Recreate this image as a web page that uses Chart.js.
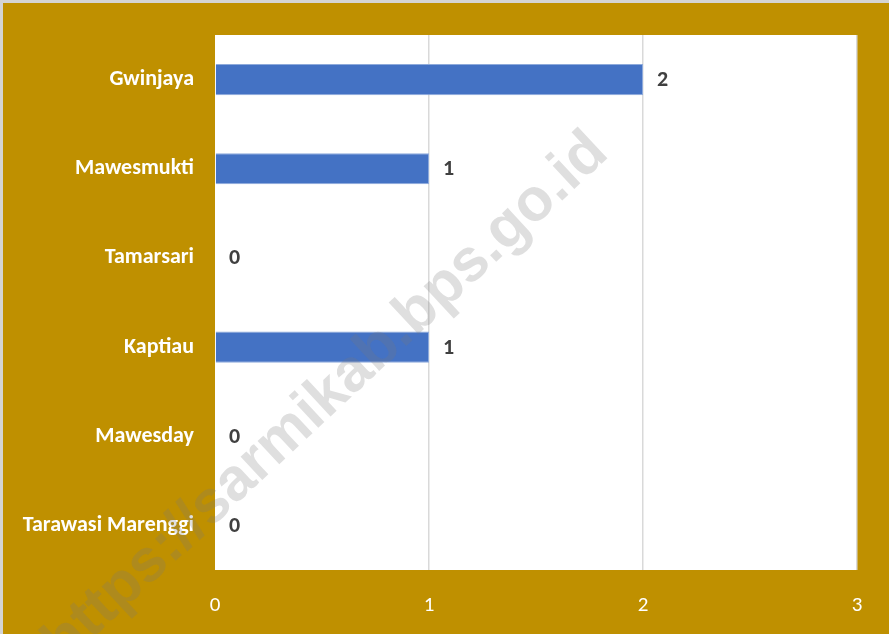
<!DOCTYPE html>
<html lang="en">
<head>
    <meta charset="UTF-8">
    <title>Bar Chart</title>
    <script src="https://cdn.jsdelivr.net/npm/chart.js"></script>
    <style>
        html, body {
            margin: 0;
            padding: 0;
            background-color: #bf9000;
        }

        #chartBox {
            width: 889px;
            height: 634px;
        }
    </style>
</head>
<body>
<div id="chartBox">
    <canvas id="barChart" width="889" height="634"></canvas>
</div>

<script>
    const villages = ['Gwinjaya', 'Mawesmukti', 'Tamarsari', 'Kaptiau', 'Mawesday', 'Tarawasi Marenggi'];
    const counts = [2, 1, 0, 1, 0, 0];
    const axisTicks = [0, 1, 2, 3];

    const labelFont = "Carlito, Lato, 'Noto Sans', sans-serif";

    // gold backdrop, white plot area, thin frame at top/left
    const backdrop = {
        id: 'backdrop',
        beforeDraw(chart) {
            const {ctx, chartArea: a} = chart;
            ctx.save();
            ctx.fillStyle = '#bf9000';
            ctx.fillRect(0, 0, chart.width, chart.height);
            ctx.strokeStyle = '#d4d4d4';
            ctx.lineWidth = 3;
            ctx.beginPath();
            ctx.moveTo(1.5, chart.height);
            ctx.lineTo(1.5, 1.5);
            ctx.lineTo(chart.width, 1.5);
            ctx.stroke();
            ctx.fillStyle = '#ffffff';
            ctx.fillRect(a.left, a.top, a.right - a.left, a.bottom - a.top);
            ctx.restore();
        }
    };

    // value labels at the end of each bar
    const valueLabels = {
        id: 'valueLabels',
        afterDatasetsDraw(chart) {
            const ctx = chart.ctx;
            const meta = chart.getDatasetMeta(0);
            ctx.save();
            ctx.font = 'bold 22px ' + labelFont;
            ctx.fillStyle = '#404040';
            ctx.textAlign = 'left';
            ctx.textBaseline = 'middle';
            meta.data.forEach((bar, i) => {
                ctx.fillText(String(counts[i]), bar.x + 14, bar.y + 1);
            });
            ctx.restore();
        }
    };

    // diagonal site watermark
    const watermark = {
        id: 'watermark',
        afterDraw(chart) {
            const ctx = chart.ctx;
            ctx.save();
            ctx.translate(326, 398);
            ctx.rotate(-43 * Math.PI / 180);
            ctx.font = "bold 60px 'Liberation Sans', Arial, sans-serif";
            ctx.fillStyle = 'rgba(120, 120, 120, 0.24)';
            ctx.textAlign = 'center';
            ctx.textBaseline = 'middle';
            ctx.fillText('https://sarmikab.bps.go.id', 0, 0);
            ctx.restore();
        }
    };

    const ctx = document.getElementById('barChart').getContext('2d');
    const chart = new Chart(ctx, {
        type: 'bar',
        data: {
            labels: villages,
            datasets: [{
                data: counts,
                backgroundColor: '#4472c4',
                borderColor: '#8eaadb',
                borderWidth: 1,
                barPercentage: 0.35,
                categoryPercentage: 1.0
            }]
        },
        options: {
            indexAxis: 'y',
            responsive: false,
            animation: false,
            layout: {
                padding: {top: 35, right: 32, bottom: 0, left: 0}
            },
            plugins: {
                legend: {display: false},
                tooltip: {enabled: false}
            },
            scales: {
                x: {
                    min: axisTicks[0],
                    max: axisTicks[axisTicks.length - 1],
                    afterBuildTicks: scale => {
                        scale.ticks = axisTicks.map(v => ({value: v}));
                    },
                    afterFit: scale => {
                        scale.height = 64;
                    },
                    border: {display: false},
                    grid: {
                        drawTicks: false,
                        lineWidth: 1.5,
                        color: c => c.tick && c.tick.value === 0 ? 'rgba(0,0,0,0)' : '#d9d9d9'
                    },
                    ticks: {
                        color: '#ffffff',
                        padding: 23,
                        font: {family: labelFont, size: 21}
                    }
                },
                y: {
                    afterFit: scale => {
                        scale.width = 215;
                    },
                    border: {display: false},
                    grid: {display: false, drawTicks: false},
                    ticks: {
                        color: '#ffffff',
                        padding: 21,
                        font: {family: labelFont, size: 22, weight: 'bold'}
                    }
                }
            }
        },
        plugins: [backdrop, valueLabels, watermark]
    });
</script>
</body>
</html>
